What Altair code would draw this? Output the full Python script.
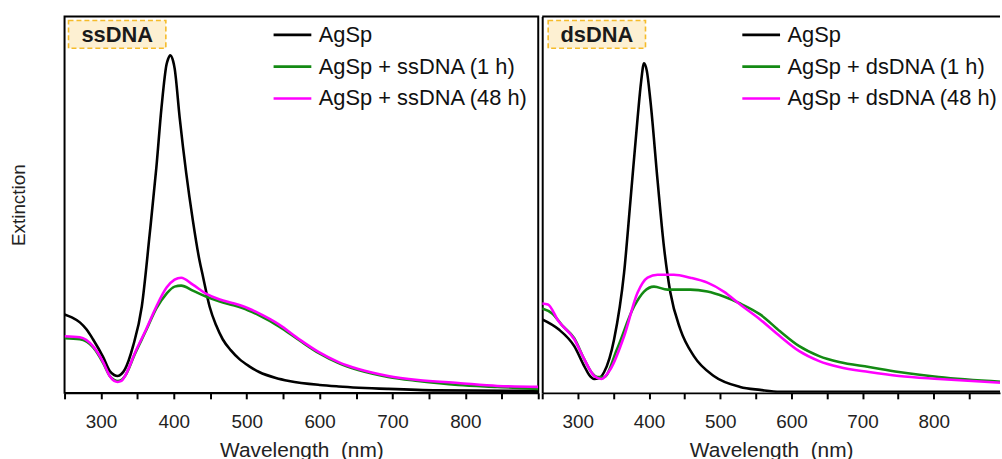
import altair as alt
import pandas as pd

# ---------------- ssDNA panel traces (wavelength in nm, extinction in a.u.) ----------------
ss_agsp_nm = [250, 260, 271, 280, 289, 303, 312, 318, 323, 328, 333, 344, 356, 367, 376, 383,
              390, 392, 395, 399, 401, 408, 417, 426, 435, 440, 449, 458, 467, 478, 490, 503,
              517, 540, 558, 600, 626, 694, 762, 900]
ss_agsp_ext = [0.79, 0.76, 0.71, 0.64, 0.54, 0.36, 0.22, 0.18, 0.17, 0.19, 0.24, 0.47, 0.87, 1.61,
               2.27, 2.87, 3.31, 3.36, 3.40, 3.34, 3.27, 2.77, 2.21, 1.74, 1.34, 1.17, 0.87, 0.68,
               0.54, 0.43, 0.34, 0.27, 0.21, 0.15, 0.12, 0.08, 0.065, 0.04, 0.025, 0.02]

ss_1h_nm = [250, 271, 289, 303, 312, 318, 323, 328, 333, 347, 362, 376, 390, 401, 410, 426, 444,
            463, 480, 494, 517, 544, 572, 599, 626, 653, 694, 735, 790, 844, 900]
ss_1h_ext = [0.55, 0.54, 0.46, 0.30, 0.17, 0.13, 0.12, 0.13, 0.17, 0.40, 0.63, 0.85, 1.00, 1.07,
             1.08, 1.03, 0.97, 0.92, 0.885, 0.855, 0.78, 0.67, 0.53, 0.40, 0.30, 0.23, 0.16, 0.12,
             0.08, 0.06, 0.04]

ss_48h_nm = [250, 271, 289, 303, 312, 318, 323, 328, 333, 347, 362, 376, 390, 401, 410, 426, 444,
             463, 480, 494, 517, 544, 572, 599, 626, 653, 694, 735, 790, 844, 900]
ss_48h_ext = [0.57, 0.56, 0.47, 0.31, 0.17, 0.12, 0.11, 0.12, 0.17, 0.41, 0.64, 0.87, 1.06, 1.14,
              1.16, 1.09, 1.00, 0.94, 0.905, 0.875, 0.80, 0.69, 0.54, 0.41, 0.31, 0.24, 0.17, 0.13,
              0.10, 0.07, 0.06]

# ---------------- dsDNA panel traces ----------------
ds_agsp_nm = [250, 273, 295, 309, 316, 323, 330, 337, 351, 365, 374, 384, 389, 393, 397, 402,
              412, 421, 430, 444, 463, 491, 528, 556, 584, 650, 900]
ds_agsp_ext = [0.74, 0.64, 0.47, 0.27, 0.18, 0.14, 0.15, 0.21, 0.54, 1.21, 1.94, 2.77, 3.14, 3.32,
               3.24, 2.94, 2.14, 1.47, 1.01, 0.64, 0.37, 0.17, 0.06, 0.03, 0.01, 0.01, 0.01]

ds_1h_nm = [250, 264, 278, 295, 309, 320, 328, 337, 355, 379, 393, 407, 426, 458, 482, 505, 528,
            556, 584, 611, 639, 667, 709, 751, 807, 900]
ds_1h_ext = [0.85, 0.80, 0.68, 0.55, 0.34, 0.20, 0.16, 0.16, 0.44, 0.87, 1.02, 1.07, 1.04, 1.04,
             1.02, 0.97, 0.90, 0.79, 0.62, 0.47, 0.37, 0.31, 0.26, 0.21, 0.16, 0.11]

ds_48h_nm = [250, 258, 273, 295, 309, 323, 333, 346, 365, 384, 398, 412, 435, 458, 482, 505, 528,
             556, 584, 611, 639, 667, 709, 751, 807, 900]
ds_48h_ext = [0.90, 0.89, 0.72, 0.54, 0.34, 0.17, 0.14, 0.24, 0.57, 1.01, 1.16, 1.19, 1.19, 1.16,
              1.11, 1.02, 0.89, 0.74, 0.57, 0.42, 0.32, 0.26, 0.21, 0.17, 0.14, 0.10]

ss_names = ["AgSp", "AgSp + ssDNA (1 h)", "AgSp + ssDNA (48 h)"]
ds_names = ["AgSp", "AgSp + dsDNA (1 h)", "AgSp + dsDNA (48 h)"]
series_colors = ["#000000", "#138a13", "#ff00ff"]
x_ticks = list(range(250, 901, 50))

FONT = "Liberation Sans"
Y_MAX = 3.79
PLOT_H = 379


def spectra_frame(names, traces):
    parts = []
    for name, (nm, ext) in zip(names, traces):
        parts.append(pd.DataFrame({"nm": nm, "ext": ext, "series": name}))
    return pd.concat(parts, ignore_index=True)


def panel(df, names, tag, width, x_max, legend_x, tag_x, first):
    x_axis = alt.Axis(
        values=x_ticks,
        labelExpr="(datum.value % 100 == 0 && datum.value >= 300 && datum.value <= 800) ? datum.label : ''",
        format="d",
        title="Wavelength\u00a0\u00a0(nm)",
        titleFontSize=21, titleFontWeight="normal", titleColor="#222", titleFont=FONT,
        titlePadding=8,
        labelFontSize=19, labelColor="#222", labelFont=FONT, labelPadding=14,
        labelOverlap=False, labelFlush=False,
        tickSize=6, tickWidth=2, tickColor="#000",
        domain=True, domainWidth=2, domainColor="#000", grid=False,
    )
    if first:
        y_axis = alt.Axis(title="Extinction", titleFontSize=19, titleFontWeight="normal",
                          titleColor="#222", titleFont=FONT, titlePadding=36,
                          labels=False, ticks=False, domain=False, grid=False)
    else:
        y_axis = alt.Axis(title=None, labels=False, ticks=False, domain=True,
                          domainWidth=2, domainColor="#000", grid=False, minExtent=0)

    lines = alt.Chart(df).mark_line(strokeWidth=2.6, interpolate="monotone", clip=True).encode(
        x=alt.X("nm:Q", scale=alt.Scale(domain=[250, x_max], nice=False, zero=False), axis=x_axis),
        y=alt.Y("ext:Q", scale=alt.Scale(domain=[0, Y_MAX], nice=False), axis=y_axis),
        color=alt.Color(
            "series:N",
            scale=alt.Scale(domain=names, range=series_colors),
            sort=names,
            legend=alt.Legend(
                title=None, orient="none", legendX=legend_x, legendY=-2, padding=0,
                symbolType="stroke", symbolSize=1444, symbolStrokeWidth=2.6,
                labelFontSize=22, labelFont=FONT, labelColor="#111", labelOffset=6,
                labelLimit=0, rowPadding=-4,
            ),
        ),
    )

    tag_df = pd.DataFrame({"tag": [tag]})
    box = alt.Chart(tag_df).mark_rect(
        fill="#fdf0d2", stroke="#f5bb2a", strokeDash=[5, 3], strokeWidth=1.6
    ).encode(x=alt.value(tag_x), x2=alt.value(tag_x + 98), y=alt.value(4), y2=alt.value(32))
    label = alt.Chart(tag_df).mark_text(
        font=FONT, fontSize=22, fontWeight="bold", color="#1a1a1a", baseline="middle", align="center"
    ).encode(x=alt.value(tag_x + 49), y=alt.value(18.5), text="tag:N")

    layers = [lines, box, label]
    if not first:
        frame_df = pd.DataFrame({"edge": ["top"]})
        top_edge = alt.Chart(frame_df).mark_rule(color="#000", strokeWidth=2).encode(
            x=alt.value(0), x2=alt.value(width), y=alt.value(0)
        )
        layers.append(top_edge)
    return alt.layer(*layers)


ss_df = spectra_frame(ss_names, [(ss_agsp_nm, ss_agsp_ext), (ss_1h_nm, ss_1h_ext), (ss_48h_nm, ss_48h_ext)])
ds_df = spectra_frame(ds_names, [(ds_agsp_nm, ds_agsp_ext), (ds_1h_nm, ds_1h_ext), (ds_48h_nm, ds_48h_ext)])

left = panel(ss_df, ss_names, "ssDNA", 477, 900, 209, 4, True).properties(
    width=477, height=PLOT_H, view=alt.ViewBackground(stroke="#000", strokeWidth=2)
)
right = panel(ds_df, ds_names, "dsDNA", 461, 893, 200, 6, False).properties(
    width=461, height=PLOT_H, view=alt.ViewBackground(stroke="transparent")
)

chart = (
    alt.hconcat(left, right, spacing=0)
    .resolve_scale(x="independent", color="independent")
    .resolve_legend(color="independent")
    .properties(padding={"left": 9, "top": 12, "right": 0, "bottom": 0}, background="white")
    .configure(font=FONT)
)

chart.save("out.html", embed_options={"renderer": "svg", "actions": False})
